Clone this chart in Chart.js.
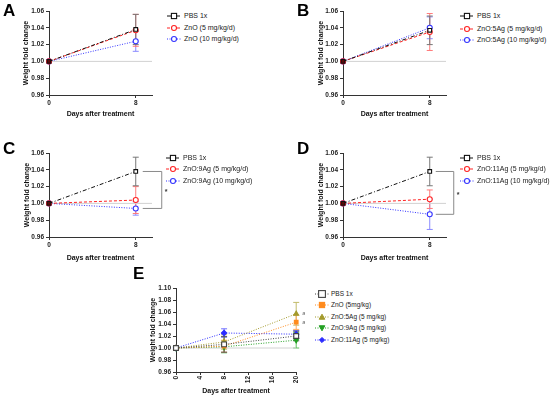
<!DOCTYPE html>
<html>
<head>
<meta charset="utf-8">
<script src="https://cdn.jsdelivr.net/npm/chart.js@4.4.1/dist/chart.umd.min.js"></script>
<style>
  body { margin: 0; background: #fff; width: 550px; height: 396px; position: relative; overflow: hidden;
         font-family: "Liberation Sans", Arial, sans-serif; }
  canvas { position: absolute; }
  .letter { position: absolute; font-weight: bold; font-size: 17px; line-height: 17px; color: #000; }
  .leg { position: absolute; height: 10px; line-height: 10px; font-size: 7px; color: #111; white-space: nowrap; }
  .leg svg { position: absolute; top: 0; }
  .leg span { position: absolute; top: 0; color: #1a1a1a; }
</style>
</head>
<body>
<script>
/* ---------- data ---------- */
const daysShort = [0, 8];
const daysLong = [0, 8, 20];
const xTicksShort = [0, 8];
const xTicksLong = [0, 4, 8, 12, 16, 20];
const yTicksSmall = [0.96, 0.98, 1.00, 1.02, 1.04, 1.06];
const yTicksLarge = [0.96, 0.98, 1.00, 1.02, 1.04, 1.06, 1.08, 1.10];

// A
const pbsA = [1.000, 1.038];     const pbsAErr = [0, 0.018];
const znoLoA = [1.000, 1.037];   const znoLoAErr = [0, 0.019];
const znoHiA = [1.000, 1.024];   const znoHiAErr = [0, 0.012];
// B
const pbsB = [1.000, 1.037];     const pbsBErr = [0, 0.017];
const ag5LoB = [1.000, 1.035];   const ag5LoBErr = [0, 0.022];
const ag5HiB = [1.000, 1.040];   const ag5HiBErr = [0, 0.013];
// C
const pbsC = [1.000, 1.038];     const pbsCErr = [0, 0.017];
const ag9LoC = [1.000, 1.004];   const ag9LoCErr = [0, 0.016];
const ag9HiC = [1.000, 0.994];   const ag9HiCErr = [0, 0.008];
// D
const pbsD = [1.000, 1.038];     const pbsDErr = [0, 0.017];
const ag11LoD = [1.000, 1.005];  const ag11LoDErr = [0, 0.011];
const ag11HiD = [1.000, 0.987];  const ag11HiDErr = [0, 0.018];
// E
const pbsE = [1.000, 1.006, 1.020];  const pbsEErr = [0, 0.013, 0.008];
const znoE = [1.000, 1.003, 1.043];  const znoEErr = [0, 0.010, 0.012];
const ag5E = [1.000, 1.010, 1.057];  const ag5EErr = [0, 0.012, 0.019];
const ag9E = [1.000, 1.002, 1.013];  const ag9EErr = [0, 0.010, 0.013];
const ag11E = [1.000, 1.025, 1.023]; const ag11EErr = [0, 0.007, 0.006];

const labelsA = ["PBS 1x", "ZnO (5 mg/kg/d)", "ZnO (10 mg/kg/d)"];
const labelsB = ["PBS 1x", "ZnO:5Ag (5 mg/kg/d)", "ZnO:5Ag (10 mg/kg/d)"];
const labelsC = ["PBS 1x", "ZnO:9Ag  (5 mg/kg/d)", "ZnO:9Ag  (10 mg/kg/d)"];
const labelsD = ["PBS 1x", "ZnO:11Ag (5 mg/kg/d)", "ZnO:11Ag (10 mg/kg/d)"];
const labelsE = ["PBS 1x", "ZnO (5mg/kg)", "ZnO:5Ag (5 mg/kg)", "ZnO:9Ag (5 mg/kg)", "ZnO:11Ag (5 mg/kg)"];

/* ---------- styles ---------- */
const ST = {
  pbs:   { color: "#111", err: "#777", dash: [4, 2, 1, 2], shape: "rect", r: 2.6, fill: "#fff", fill0: "#5a0a0a" },
  red:   { color: "#ff2222", err: "#ff7a7a", dash: [3, 2], shape: "circle", r: 2.5, fill: "#fff", fill0: "#cc0000" },
  blue:  { color: "#3333ff", err: "#8a8aff", dash: [1, 1.5], shape: "circle", r: 2.5, fill: "#fff", fill0: "#2222cc" },
  ePbs:  { color: "#444", err: "#555", dash: [1, 1.5], shape: "rect", r: 3.4, fill: "#fff", fill0: "#fff" },
  eZno:  { color: "#ff8a1c", err: "#ffaa60", dash: [1, 1.5], shape: "rect", r: 2.6, fill: "#ff8a1c", fill0: "#ff8a1c" },
  eAg5:  { color: "#a39a2c", err: "#c2bb6a", dash: [1, 1.5], shape: "triangle", r: 2.8, fill: "#a39a2c", fill0: "#a39a2c" },
  eAg9:  { color: "#23a023", err: "#5cbf5c", dash: [1, 1.5], shape: "triangle", rot: 180, r: 2.8, fill: "#23a023", fill0: "#23a023" },
  eAg11: { color: "#2a2aff", err: "#7070ff", dash: [1, 1.5], shape: "rectRot", r: 2.6, fill: "#2a2aff", fill0: "#2a2aff" }
};

Chart.defaults.font.family = '"Liberation Sans", Arial, sans-serif';
Chart.defaults.color = "#222";

function series(label, xs, ys, errs, st) {
  return {
    label: label,
    data: xs.map((x, i) => ({ x: x, y: ys[i] })),
    errors: errs,
    errColor: st.err,
    showLine: true,
    clip: false,
    borderColor: st.color,
    borderWidth: 1,
    borderDash: st.dash,
    pointStyle: st.shape,
    rotation: st.rot || 0,
    pointRadius: st.r,
    pointBorderColor: st.color,
    pointBorderWidth: 1.1,
    pointBackgroundColor: xs.map((x, i) => (i === 0 ? st.fill0 : st.fill))
  };
}

function baseline(xMax) {
  return {
    label: "baseline",
    data: [{ x: 0, y: 1 }, { x: xMax, y: 1 }],
    showLine: true,
    borderColor: "#d2d2d2",
    borderWidth: 1,
    pointRadius: 0
  };
}

/* ---------- plugins ---------- */
const errorBars = {
  id: "errorBars",
  beforeDatasetsDraw(chart) {
    const { ctx, scales: { x, y } } = chart;
    chart.data.datasets.slice().reverse().forEach(ds => {
      if (!ds.errors) return;
      ctx.save();
      ctx.strokeStyle = ds.errColor;
      ctx.lineWidth = 1;
      ds.data.forEach((p, i) => {
        const e = ds.errors[i];
        if (!e) return;
        const px = x.getPixelForValue(p.x);
        const top = y.getPixelForValue(p.y + e);
        const bot = y.getPixelForValue(p.y - e);
        ctx.beginPath();
        ctx.moveTo(px, top); ctx.lineTo(px, bot);
        ctx.moveTo(px - 3, top); ctx.lineTo(px + 3, top);
        ctx.moveTo(px - 3, bot); ctx.lineTo(px + 3, bot);
        ctx.stroke();
      });
      ctx.restore();
    });
  }
};

const bracket = {
  id: "bracket",
  afterDatasetsDraw(chart, args, opts) {
    if (!opts || opts.y1 === undefined) return;
    const { ctx, scales: { x, y } } = chart;
    const px = x.getPixelForValue(opts.x);
    const a = y.getPixelForValue(opts.y1);
    const b = y.getPixelForValue(opts.y2);
    ctx.save();
    ctx.strokeStyle = "#8a8a8a";
    ctx.lineWidth = 1;
    ctx.beginPath();
    ctx.moveTo(px + opts.dx0, a);
    ctx.lineTo(px + opts.dx1, a);
    ctx.lineTo(px + opts.dx1, b);
    ctx.lineTo(px + opts.dx0, b);
    ctx.stroke();
    ctx.fillStyle = "#333";
    ctx.font = "bold 7px 'Liberation Sans', Arial";
    ctx.textAlign = "left";
    ctx.textBaseline = "middle";
    ctx.fillText("*", px + opts.dx1 + 3, (a + b) / 2 + 2);
    ctx.restore();
  }
};

const notes = {
  id: "notes",
  afterDatasetsDraw(chart, args, opts) {
    if (!opts || !opts.items) return;
    const { ctx, scales: { x, y } } = chart;
    ctx.save();
    ctx.fillStyle = "#666";
    ctx.font = "6px 'Liberation Sans', Arial";
    ctx.textAlign = "left";
    ctx.textBaseline = "middle";
    opts.items.forEach(n => {
      ctx.fillText(n.text, x.getPixelForValue(n.x) + 6, y.getPixelForValue(n.y));
    });
    ctx.restore();
  }
};

/* ---------- panel builder ---------- */
function makePanel(o) {
  const cv = document.createElement("canvas");
  cv.width = o.w;
  cv.height = o.h;
  cv.style.left = o.left + "px";
  cv.style.top = o.top + "px";
  document.body.appendChild(cv);
  return new Chart(cv, {
    type: "scatter",
    data: { datasets: o.datasets.concat([baseline(o.xMax)]) },
    options: {
      responsive: false,
      animation: false,
      events: [],
      layout: { padding: { left: 0, top: o.padTop, right: o.padRight, bottom: 0 } },
      plugins: {
        legend: { display: false },
        tooltip: { enabled: false },
        bracket: o.bracket || {},
        notes: { items: o.notes || [] }
      },
      scales: {
        x: {
          type: "linear",
          min: 0,
          max: o.xMax,
          afterBuildTicks: s => { s.ticks = o.xTicks.map(v => ({ value: v })); },
          afterFit: s => { s.height = o.xAxisH; },
          grid: { drawOnChartArea: false, tickLength: 3, color: "#333" },
          border: { color: "#333", width: 1 },
          ticks: {
            padding: 1,
            minRotation: o.rot || 0,
            maxRotation: o.rot || 0,
            font: { size: 6.5, weight: "bold" },
            color: "#222",
            callback: v => String(v)
          },
          title: {
            display: true,
            text: "Days after treatment",
            font: { size: 7, weight: "bold" },
            color: "#111",
            padding: { top: 0, bottom: o.xTitlePad }
          }
        },
        y: {
          min: 0.96,
          max: o.yTicks[o.yTicks.length - 1],
          afterBuildTicks: s => { s.ticks = o.yTicks.map(v => ({ value: v })); },
          afterFit: s => { s.width = o.yAxisW; },
          grid: { drawOnChartArea: false, tickLength: 3, color: "#333" },
          border: { color: "#333", width: 1 },
          ticks: {
            padding: 2,
            font: { size: 6.5, weight: "bold" },
            color: "#222",
            callback: v => Number(v).toFixed(2)
          },
          title: {
            display: true,
            text: "Weight fold change",
            font: { size: 7, weight: "bold" },
            color: "#111",
            padding: { top: o.yTitlePad, bottom: 0 }
          }
        }
      }
    },
    plugins: [errorBars, bracket, notes]
  });
}

/* ---------- legends ---------- */
function markerSvg(st) {
  const c = st.color, f = st.fill, cx = 7, cy = 5, r = st.r;
  let shape = "";
  if (st.shape === "rect") {
    shape = `<rect x="${cx - r}" y="${cy - r}" width="${2 * r}" height="${2 * r}" fill="${f}" stroke="${c}" stroke-width="1.1"/>`;
  } else if (st.shape === "circle") {
    shape = `<circle cx="${cx}" cy="${cy}" r="${r}" fill="${f}" stroke="${c}" stroke-width="1.1"/>`;
  } else if (st.shape === "triangle") {
    const s = st.rot ? -1 : 1;
    shape = `<polygon points="${cx},${cy - s * r} ${cx - r},${cy + s * r * 0.8} ${cx + r},${cy + s * r * 0.8}" fill="${f}" stroke="${c}"/>`;
  } else {
    shape = `<polygon points="${cx},${cy - r} ${cx + r},${cy} ${cx},${cy + r} ${cx - r},${cy}" fill="${f}" stroke="${c}"/>`;
  }
  return `<svg width="14" height="10"><line x1="0" y1="5" x2="14" y2="5" stroke="${c}" stroke-width="1" stroke-dasharray="${st.dash.join(",")}"/>${shape}</svg>`;
}

function legend(labels, styles, markX, textX, rowsY, fontSize) {
  labels.forEach((txt, i) => {
    const row = document.createElement("div");
    row.className = "leg";
    row.style.left = (markX - 7) + "px";
    row.style.top = (rowsY[i] - 5) + "px";
    row.style.fontSize = fontSize + "px";
    row.innerHTML = markerSvg(styles[i]) + `<span style="left:${textX - markX + 7}px">${txt}</span>`;
    document.body.appendChild(row);
  });
}

function letter(ch, x, y) {
  const d = document.createElement("div");
  d.className = "letter";
  d.style.left = x + "px";
  d.style.top = y + "px";
  d.textContent = ch;
  document.body.appendChild(d);
}

/* ---------- panels ---------- */
const smallCommon = { h: 125, xMax: 9.5, xTicks: xTicksShort, yTicks: yTicksSmall, padTop: 11, yAxisW: 49, xAxisH: 30 };

makePanel(Object.assign({}, smallCommon, {
  left: 0, top: 0, w: 160, padRight: 8, xTitlePad: 7, yTitlePad: 21.8,
  datasets: [
    series(labelsA[0], daysShort, pbsA, pbsAErr, ST.pbs),
    series(labelsA[1], daysShort, znoLoA, znoLoAErr, ST.red),
    series(labelsA[2], daysShort, znoHiA, znoHiAErr, ST.blue)
  ]
}));

makePanel(Object.assign({}, smallCommon, {
  left: 294, top: 0, w: 160, padRight: 8, xTitlePad: 7, yTitlePad: 22.8,
  datasets: [
    series(labelsB[0], daysShort, pbsB, pbsBErr, ST.pbs),
    series(labelsB[1], daysShort, ag5LoB, ag5LoBErr, ST.red),
    series(labelsB[2], daysShort, ag5HiB, ag5HiBErr, ST.blue)
  ]
}));

makePanel(Object.assign({}, smallCommon, {
  left: 0, top: 142, w: 172, padRight: 20, xTitlePad: 5, yTitlePad: 22.5,
  bracket: { x: 8, y1: pbsC[1], y2: ag9HiC[1], dx0: 7, dx1: 26 },
  datasets: [
    series(labelsC[0], daysShort, pbsC, pbsCErr, ST.pbs),
    series(labelsC[1], daysShort, ag9LoC, ag9LoCErr, ST.red),
    series(labelsC[2], daysShort, ag9HiC, ag9HiCErr, ST.blue)
  ]
}));

makePanel(Object.assign({}, smallCommon, {
  left: 294, top: 142, w: 172, padRight: 20, xTitlePad: 5, yTitlePad: 22.8,
  bracket: { x: 8, y1: pbsD[1], y2: ag11HiD[1], dx0: 6, dx1: 24 },
  datasets: [
    series(labelsD[0], daysShort, pbsD, pbsDErr, ST.pbs),
    series(labelsD[1], daysShort, ag11LoD, ag11LoDErr, ST.red),
    series(labelsD[2], daysShort, ag11HiD, ag11HiDErr, ST.blue)
  ]
}));

makePanel({
  left: 130, top: 270, w: 175, h: 126, xMax: 20, xTicks: xTicksLong, yTicks: yTicksLarge,
  padTop: 18, padRight: 8, yAxisW: 46, xAxisH: 24, rot: 90, xTitlePad: 0.8, yTitlePad: 18.8,
  notes: [{ x: 20, y: ag5E[2], text: "ab" }, { x: 20, y: znoE[2], text: "a" }],
  datasets: [
    series(labelsE[0], daysLong, pbsE, pbsEErr, ST.ePbs),
    series(labelsE[1], daysLong, znoE, znoEErr, ST.eZno),
    series(labelsE[2], daysLong, ag5E, ag5EErr, ST.eAg5),
    series(labelsE[3], daysLong, ag9E, ag9EErr, ST.eAg9),
    series(labelsE[4], daysLong, ag11E, ag11EErr, ST.eAg11)
  ]
});

legend(labelsA, [ST.pbs, ST.red, ST.blue], 174, 184, [16, 28, 39], 7);
legend(labelsB, [ST.pbs, ST.red, ST.blue], 467, 477, [16, 29, 40], 7);
legend(labelsC, [ST.pbs, ST.red, ST.blue], 173, 183, [158, 169, 181], 7);
legend(labelsD, [ST.pbs, ST.red, ST.blue], 467, 477, [158, 169, 181], 7);
legend(labelsE, [ST.ePbs, ST.eZno, ST.eAg5, ST.eAg9, ST.eAg11], 322, 331, [294, 305, 317, 328, 340], 6.5);

letter("A", 3, 2);
letter("B", 297, 2);
letter("C", 3, 140);
letter("D", 297, 140);
letter("E", 133, 265);
</script>
</body>
</html>
